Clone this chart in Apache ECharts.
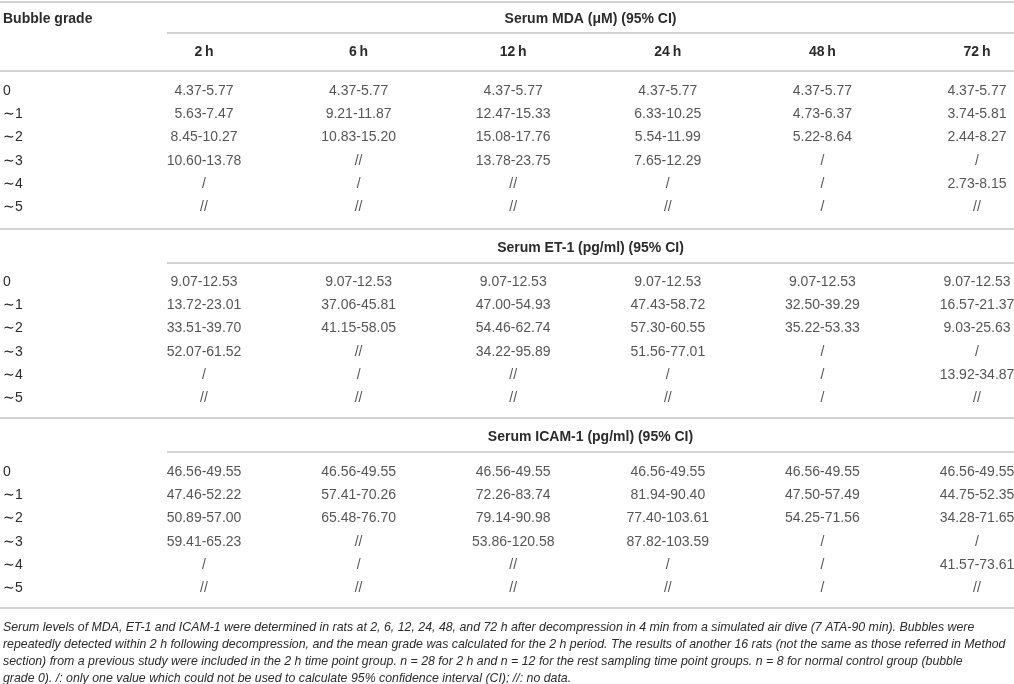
<!DOCTYPE html>
<html>
<head>
<meta charset="utf-8">
<title>Serum MDA, ET-1 and ICAM-1 by bubble grade</title>
<script src="https://cdn.jsdelivr.net/npm/echarts@6/dist/echarts.min.js"></script>
<style>
  html, body { margin: 0; padding: 0; background: #fff; }
  #main { width: 1014px; height: 684px; }
</style>
</head>
<body>
<div id="main"></div>
<script>
// 表格数据
var times = ['2\u2009h', '6\u2009h', '12\u2009h', '24\u2009h', '48\u2009h', '72\u2009h'];
var grades = ['0', '\u223C1', '\u223C2', '\u223C3', '\u223C4', '\u223C5'];

var mdaTitle = 'Serum MDA (\u03BCM) (95% CI)';
var mdaCI = [
  ['4.37-5.77', '4.37-5.77', '4.37-5.77', '4.37-5.77', '4.37-5.77', '4.37-5.77'],
  ['5.63-7.47', '9.21-11.87', '12.47-15.33', '6.33-10.25', '4.73-6.37', '3.74-5.81'],
  ['8.45-10.27', '10.83-15.20', '15.08-17.76', '5.54-11.99', '5.22-8.64', '2.44-8.27'],
  ['10.60-13.78', '//', '13.78-23.75', '7.65-12.29', '/', '/'],
  ['/', '/', '//', '/', '/', '2.73-8.15'],
  ['//', '//', '//', '//', '/', '//']
];

var etTitle = 'Serum ET-1 (pg/ml) (95% CI)';
var etCI = [
  ['9.07-12.53', '9.07-12.53', '9.07-12.53', '9.07-12.53', '9.07-12.53', '9.07-12.53'],
  ['13.72-23.01', '37.06-45.81', '47.00-54.93', '47.43-58.72', '32.50-39.29', '16.57-21.37'],
  ['33.51-39.70', '41.15-58.05', '54.46-62.74', '57.30-60.55', '35.22-53.33', '9.03-25.63'],
  ['52.07-61.52', '//', '34.22-95.89', '51.56-77.01', '/', '/'],
  ['/', '/', '//', '/', '/', '13.92-34.87'],
  ['//', '//', '//', '//', '/', '//']
];

var icamTitle = 'Serum ICAM-1 (pg/ml) (95% CI)';
var icamCI = [
  ['46.56-49.55', '46.56-49.55', '46.56-49.55', '46.56-49.55', '46.56-49.55', '46.56-49.55'],
  ['47.46-52.22', '57.41-70.26', '72.26-83.74', '81.94-90.40', '47.50-57.49', '44.75-52.35'],
  ['50.89-57.00', '65.48-76.70', '79.14-90.98', '77.40-103.61', '54.25-71.56', '34.28-71.65'],
  ['59.41-65.23', '//', '53.86-120.58', '87.82-103.59', '/', '/'],
  ['/', '/', '//', '/', '/', '41.57-73.61'],
  ['//', '//', '//', '//', '/', '//']
];

var footnote = [
  'Serum levels of MDA, ET-1 and ICAM-1 were determined in rats at 2, 6, 12, 24, 48, and 72 h after decompression in 4 min from a simulated air dive (7 ATA-90 min). Bubbles were',
  'repeatedly detected within 2 h following decompression, and the mean grade was calculated for the 2 h period. The results of another 16 rats (not the same as those referred in Method',
  'section) from a previous study were included in the 2 h time point group. n = 28 for 2 h and n = 12 for the rest sampling time point groups. n = 8 for normal control group (bubble',
  'grade 0). /: only one value which could not be used to calculate 95% confidence interval (CI); //: no data.'
];

// 布局
var FONT = '"Liberation Sans", Arial, Helvetica, sans-serif';
var TEXT = '#2b2b2b';
var RULE = '#c4c4c4';
var colLeft = 204, colRight = 37;
var rowStep = 23.3;
var blockHeight = rowStep * 5;
var sections = [
  { title: mdaTitle, rows: mdaCI, top: 91, titleGap: 72, head: true },
  { title: etTitle, rows: etCI, top: 282, titleGap: 34, head: false },
  { title: icamTitle, rows: icamCI, top: 472, titleGap: 35, head: false }
];
// 横线: [y, 起点x]
var rules = [[2, 0], [33, 167], [71, 0], [229, 0], [263, 167], [418, 0], [452, 167], [608, 0]];

function toCells(rows) {
  var out = [];
  rows.forEach(function(row, r) {
    row.forEach(function(txt, c) {
      out.push([times[c], grades[r], txt]);
    });
  });
  return out;
}

var grids = [], xAxes = [], yAxes = [], series = [];
sections.forEach(function(s, i) {
  grids.push({ left: colLeft, right: colRight, top: s.top, height: blockHeight });
  xAxes.push({
    gridIndex: i,
    type: 'category',
    data: times,
    boundaryGap: false,
    position: 'top',
    axisLine: { show: false },
    axisTick: { show: false },
    splitLine: { show: false },
    axisLabel: {
      show: s.head,
      margin: 39,
      verticalAlign: 'middle',
      fontFamily: FONT,
      fontSize: 14,
      fontWeight: 'bold',
      color: TEXT
    },
    name: s.title,
    nameLocation: 'middle',
    nameGap: s.titleGap,
    nameTextStyle: {
      fontFamily: FONT,
      fontSize: 14,
      fontWeight: 'bold',
      color: TEXT,
      verticalAlign: 'middle'
    }
  });
  yAxes.push({
    gridIndex: i,
    type: 'category',
    data: grades,
    inverse: true,
    boundaryGap: false,
    axisLine: { show: false },
    axisTick: { show: false },
    splitLine: { show: false },
    axisLabel: {
      margin: colLeft - 3,
      align: 'left',
      fontFamily: FONT,
      fontSize: 14,
      color: TEXT
    }
  });
  series.push({
    type: 'scatter',
    xAxisIndex: i,
    yAxisIndex: i,
    symbolSize: 1,
    itemStyle: { color: 'rgba(0,0,0,0)' },
    silent: true,
    label: {
      show: true,
      position: 'inside',
      formatter: function(p) { return p.value[2]; },
      fontFamily: FONT,
      fontSize: 14,
      color: TEXT
    },
    data: toCells(s.rows)
  });
});

var graphics = rules.map(function(r) {
  return {
    type: 'line',
    silent: true,
    shape: { x1: r[1], y1: r[0], x2: 1014, y2: r[0] },
    style: { stroke: RULE, lineWidth: 1.6 }
  };
});
graphics.push({
  type: 'text',
  left: 3,
  top: 12,
  style: { text: 'Bubble grade', font: 'bold 14px ' + FONT, fill: TEXT }
});
graphics.push({
  type: 'text',
  left: 3,
  top: 619,
  style: {
    text: footnote.join('\n'),
    font: 'italic 12.35px ' + FONT,
    lineHeight: 17,
    fill: TEXT
  }
});

var chart = echarts.init(document.getElementById('main'), null, { renderer: 'canvas' });
chart.setOption({
  animation: false,
  backgroundColor: '#fff',
  grid: grids,
  xAxis: xAxes,
  yAxis: yAxes,
  series: series,
  graphic: graphics
});
</script>
</body>
</html>
